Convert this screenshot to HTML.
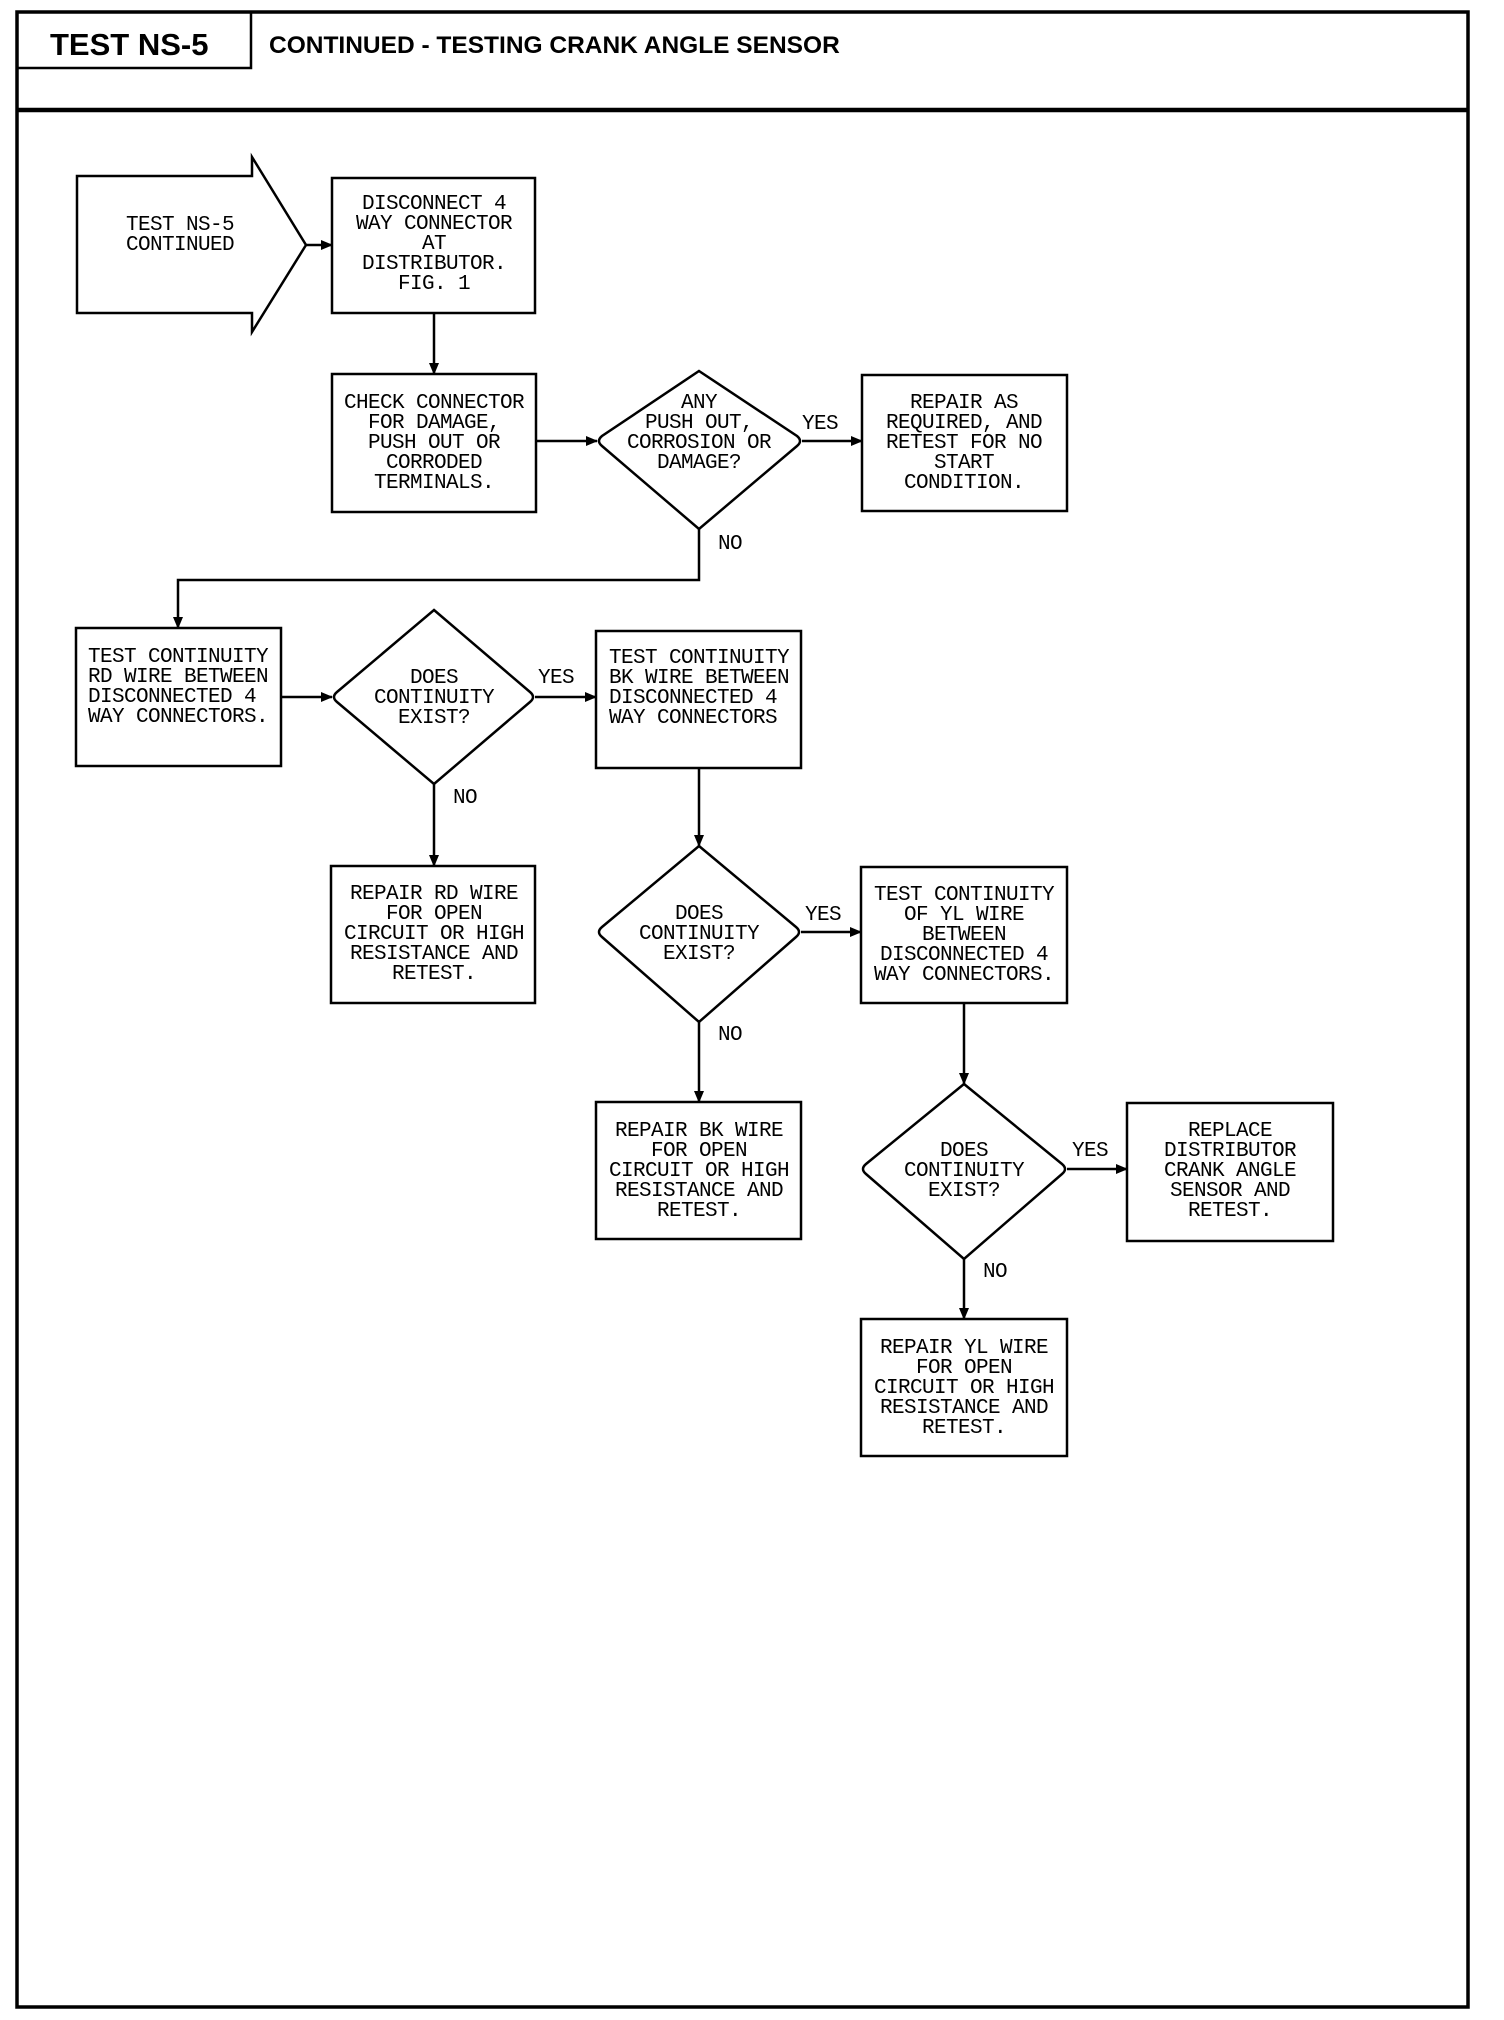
<!DOCTYPE html>
<html><head><meta charset="utf-8"><style>
html,body{margin:0;padding:0;background:#fff;}
svg{display:block;}
.t{font-family:"Liberation Mono",monospace;font-size:21px;letter-spacing:-0.6px;fill:#000;}
.l{font-family:"Liberation Mono",monospace;font-size:21px;letter-spacing:-0.6px;fill:#000;}
</style></head><body>
<svg width="1504" height="2020" viewBox="0 0 1504 2020" xmlns="http://www.w3.org/2000/svg">
<defs><marker id="a" markerWidth="12" markerHeight="10" refX="11" refY="5" orient="auto" markerUnits="userSpaceOnUse"><path d="M0,0 L12,5 L0,10 Z" fill="#000"/></marker></defs>
<g fill="none" stroke="#000">
<rect x="17" y="12" width="1451" height="1995" stroke-width="3.5"/>
<line x1="17" y1="110" x2="1468" y2="110" stroke-width="4.5"/>
<polyline points="17,68 251,68 251,12" stroke-width="2.5"/>
<g stroke-width="2.5">
<path d="M77,176 L252,176 L252,157 L306,245 L252,332 L252,313 L77,313 Z"/>
<rect x="332" y="178" width="203" height="135"/>
<rect x="332" y="374" width="204" height="138"/>
<path d="M699,371 L797,436 Q803,441 797,446 L699,529 L602,446 Q596,441 602,436 Z"/>
<rect x="862" y="375" width="205" height="136"/>
<rect x="76" y="628" width="205" height="138"/>
<path d="M434,610 L530,692 Q536,697 530,702 L434,784 L337,702 Q331,697 337,692 Z"/>
<rect x="596" y="631" width="205" height="137"/>
<rect x="331" y="866" width="204" height="137"/>
<path d="M699,846 L796,927 Q802,932 796,937 L699,1022 L602,937 Q596,932 602,927 Z"/>
<rect x="861" y="867" width="206" height="136"/>
<rect x="596" y="1102" width="205" height="137"/>
<path d="M964,1084 L1062,1164 Q1068,1169 1062,1174 L964,1259 L866,1174 Q860,1169 866,1164 Z"/>
<rect x="1127" y="1103" width="206" height="138"/>
<rect x="861" y="1319" width="206" height="137"/>
</g>
<g stroke-width="2.5" marker-end="url(#a)">
<line x1="306" y1="245" x2="332" y2="245"/>
<line x1="434" y1="313" x2="434" y2="374"/>
<line x1="536" y1="441" x2="597" y2="441"/>
<line x1="802" y1="441" x2="862" y2="441"/>
<polyline points="699,529 699,580 178,580 178,628"/>
<line x1="281" y1="697" x2="332" y2="697"/>
<line x1="535" y1="697" x2="596" y2="697"/>
<line x1="434" y1="784" x2="434" y2="866"/>
<line x1="699" y1="768" x2="699" y2="846"/>
<line x1="801" y1="932" x2="861" y2="932"/>
<line x1="699" y1="1022" x2="699" y2="1102"/>
<line x1="964" y1="1003" x2="964" y2="1084"/>
<line x1="1067" y1="1169" x2="1127" y2="1169"/>
<line x1="964" y1="1259" x2="964" y2="1319"/>
</g>
</g>
<text x="50" y="55" font-family="Liberation Sans,sans-serif" font-weight="bold" font-size="31">TEST NS-5</text>
<text x="269" y="53" font-family="Liberation Sans,sans-serif" font-weight="bold" font-size="24.5">CONTINUED - TESTING CRANK ANGLE SENSOR</text>
<g class="t" text-anchor="middle">
<text x="180" y="230">TEST NS-5</text><text x="180" y="250">CONTINUED</text>
<g transform="translate(434,209)"><text y="0">DISCONNECT 4</text><text y="20">WAY CONNECTOR</text><text y="40">AT</text><text y="60">DISTRIBUTOR.</text><text y="80">FIG. 1</text></g>
<g transform="translate(434,408)"><text y="0">CHECK CONNECTOR</text><text y="20">FOR DAMAGE,</text><text y="40">PUSH OUT OR</text><text y="60">CORRODED</text><text y="80">TERMINALS.</text></g>
<g transform="translate(699,408)"><text y="0">ANY</text><text y="20">PUSH OUT,</text><text y="40">CORROSION OR</text><text y="60">DAMAGE?</text></g>
<g transform="translate(964,408)"><text y="0">REPAIR AS</text><text y="20">REQUIRED, AND</text><text y="40">RETEST FOR NO</text><text y="60">START</text><text y="80">CONDITION.</text></g>
<g transform="translate(434,683)"><text y="0">DOES</text><text y="20">CONTINUITY</text><text y="40">EXIST?</text></g>
<g transform="translate(434,899)"><text y="0">REPAIR RD WIRE</text><text y="20">FOR OPEN</text><text y="40">CIRCUIT OR HIGH</text><text y="60">RESISTANCE AND</text><text y="80">RETEST.</text></g>
<g transform="translate(699,919)"><text y="0">DOES</text><text y="20">CONTINUITY</text><text y="40">EXIST?</text></g>
<g transform="translate(964,900)"><text y="0">TEST CONTINUITY</text><text y="20">OF YL WIRE</text><text y="40">BETWEEN</text><text y="60">DISCONNECTED 4</text><text y="80">WAY CONNECTORS.</text></g>
<g transform="translate(699,1136)"><text y="0">REPAIR BK WIRE</text><text y="20">FOR OPEN</text><text y="40">CIRCUIT OR HIGH</text><text y="60">RESISTANCE AND</text><text y="80">RETEST.</text></g>
<g transform="translate(964,1156)"><text y="0">DOES</text><text y="20">CONTINUITY</text><text y="40">EXIST?</text></g>
<g transform="translate(1230,1136)"><text y="0">REPLACE</text><text y="20">DISTRIBUTOR</text><text y="40">CRANK ANGLE</text><text y="60">SENSOR AND</text><text y="80">RETEST.</text></g>
<g transform="translate(964,1353)"><text y="0">REPAIR YL WIRE</text><text y="20">FOR OPEN</text><text y="40">CIRCUIT OR HIGH</text><text y="60">RESISTANCE AND</text><text y="80">RETEST.</text></g>
</g>
<g class="t">
<g transform="translate(88,662)"><text y="0">TEST CONTINUITY</text><text y="20">RD WIRE BETWEEN</text><text y="40">DISCONNECTED 4</text><text y="60">WAY CONNECTORS.</text></g>
<g transform="translate(609,663)"><text y="0">TEST CONTINUITY</text><text y="20">BK WIRE BETWEEN</text><text y="40">DISCONNECTED 4</text><text y="60">WAY CONNECTORS</text></g>
</g>
<g class="l">
<text x="802" y="429">YES</text><text x="718" y="549">NO</text>
<text x="538" y="683">YES</text><text x="453" y="803">NO</text>
<text x="805" y="920">YES</text><text x="718" y="1040">NO</text>
<text x="1072" y="1156">YES</text><text x="983" y="1277">NO</text>
</g>
</svg>
</body></html>
